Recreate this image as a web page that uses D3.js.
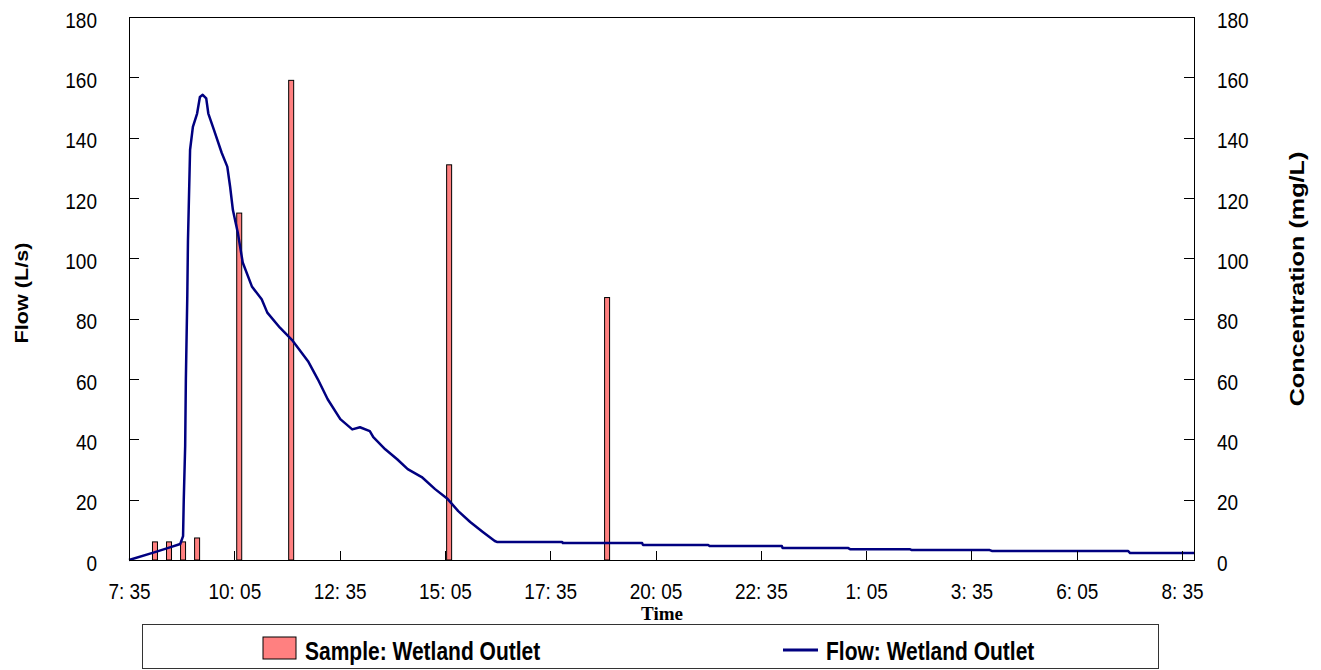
<!DOCTYPE html>
<html lang="en">
<head>
  <meta charset="UTF-8">
  <title>Wetland Outlet: Flow and Sample Concentration</title>
  <script src="https://d3js.org/d3.v7.min.js"></script>
  <style>
    body { margin: 0; background: #fff; }
    svg { display: block; font-family: Arial, "Liberation Sans", sans-serif; }
    .axis path, .axis line { stroke: #000; stroke-width: 1px; shape-rendering: crispEdges; }
    .axis text { font-size: 19px; fill: #000; }
    .bar { fill: #ff8080; stroke: #000; stroke-width: 1px; }
    .flow { fill: none; stroke: #000080; stroke-width: 2.5px; stroke-linejoin: round; }
    .title { font-weight: bold; fill: #000; }
  </style>
</head>
<body>
  <svg id="chart" width="1321" height="670"></svg>

  <script>
    // times are "DD HH:MM" (day 01 = start day, day 02 = next day)
    const flowTimes = [
      "01 07:35", "01 08:12", "01 08:31", "01 08:48", "01 08:52", "01 08:53", "01 08:55",
      "01 08:56", "01 08:58", "01 08:59", "01 09:00", "01 09:02", "01 09:06", "01 09:12",
      "01 09:16", "01 09:20", "01 09:25", "01 09:28", "01 09:36", "01 09:47", "01 09:55",
      "01 09:59", "01 10:03", "01 10:10", "01 10:17", "01 10:30", "01 10:44", "01 10:52",
      "01 11:10", "01 11:27", "01 11:50", "01 12:04", "01 12:18", "01 12:36", "01 12:53",
      "01 13:04", "01 13:18", "01 13:23", "01 13:40", "01 13:57", "01 14:12", "01 14:32",
      "01 14:51", "01 15:09", "01 15:24", "01 15:41", "01 15:59", "01 16:16", "01 16:19",
      "01 17:52", "01 17:53", "01 19:46", "01 19:47", "01 21:20", "01 21:22", "01 23:05",
      "01 23:06", "02 00:39", "02 00:42", "02 02:07", "02 02:10", "02 04:01", "02 04:04",
      "02 07:18", "02 07:21", "02 08:52"
    ];
    const flowValues = [
      0, 2.6, 4.0, 5.3, 7.9, 20, 37.7,
      60, 87, 106, 116, 136, 143.6, 148,
      153.5, 154.2, 153, 148, 142.6, 135, 130.4,
      123.8, 116, 108.5, 98.6, 90.7, 86.4, 82,
      77, 73, 65.9, 59.9, 53.3, 46.7, 43.3,
      44, 42.7, 40.7, 36.7, 33.4, 30.1, 27.5,
      23.5, 20.2, 16.2, 12.6, 9.3, 6.3, 6.0,
      6.0, 5.6, 5.6, 5.0, 5.0, 4.6, 4.6,
      4.0, 4.0, 3.6, 3.6, 3.3, 3.3, 3.0,
      3.0, 2.3, 2.3
    ];

    const sampleTimes = ["01 08:12", "01 08:32", "01 08:52", "01 09:12", "01 10:12", "01 11:26", "01 15:11", "01 18:56"];
    const sampleValues = [6, 6, 6, 7.3, 115, 159, 131, 87];

    const xTickTimes = ["01 07:35", "01 10:05", "01 12:35", "01 15:05", "01 17:35", "01 20:05",
                        "01 22:35", "02 01:05", "02 03:35", "02 06:05", "02 08:35"];
    const xTickLabels = ["7: 35", "10: 05", "12: 35", "15: 05", "17: 35", "20: 05",
                         "22: 35", "1: 05", "3: 35", "6: 05", "8: 35"];
    const yTicks = [0, 20, 40, 60, 80, 100, 120, 140, 160, 180];

    const parse = d3.timeParse("%d %H:%M");
    const plotL = 129, plotR = 1194, plotT = 17, plotB = 560;
    const svg = d3.select("#chart");

    const x = d3.scaleTime()
      .domain([parse("01 07:35"), parse("02 08:52")])
      .range([plotL, plotR]);
    const yFlow = d3.scaleLinear().domain([0, 180]).range([plotB, plotT]);
    const yConc = d3.scaleLinear().domain([0, 180]).range([plotB, plotT]);

    // plot frame
    svg.append("rect")
      .attr("x", plotL).attr("y", plotT)
      .attr("width", plotR - plotL).attr("height", plotB - plotT)
      .attr("fill", "none").attr("stroke", "#000")
      .attr("shape-rendering", "crispEdges");

    // concentration bars
    const barW = 5;
    svg.selectAll("rect.bar")
      .data(sampleTimes.map((t, i) => ({ t: parse(t), v: sampleValues[i] })))
      .enter().append("rect")
      .attr("class", "bar")
      .attr("x", d => x(d.t) - barW / 2)
      .attr("y", d => yConc(d.v))
      .attr("width", barW)
      .attr("height", d => yConc(0) - yConc(d.v));

    // flow line
    const flow = flowTimes.map((t, i) => ({ t: parse(t), v: flowValues[i] }));
    svg.append("path")
      .datum(flow)
      .attr("class", "flow")
      .attr("d", d3.line().x(d => x(d.t)).y(d => yFlow(d.v)));

    // axes
    const gL = svg.append("g").attr("class", "axis")
      .attr("transform", `translate(${plotL},0)`)
      .call(d3.axisLeft(yFlow).tickValues(yTicks).tickSize(-10).tickSizeOuter(0).tickPadding(32));
    gL.selectAll("text").attr("dy", "0.45em").attr("transform", "scale(1,1.2)");

    const gR = svg.append("g").attr("class", "axis")
      .attr("transform", `translate(${plotR},0)`)
      .call(d3.axisRight(yConc).tickValues(yTicks).tickSize(-10).tickSizeOuter(0).tickPadding(23));
    gR.selectAll("text").attr("dy", "0.45em").attr("transform", "scale(1,1.2)");

    const gB = svg.append("g").attr("class", "axis")
      .attr("transform", `translate(0,${plotB})`)
      .call(d3.axisBottom(x).tickValues(xTickTimes.map(parse))
        .tickFormat((d, i) => xTickLabels[i]).tickSize(-9).tickSizeOuter(0).tickPadding(19));
    gB.selectAll("text").attr("transform", "scale(1,1.2)");

    // axis titles
    svg.append("text").attr("class", "title")
      .attr("transform", "translate(28,293) rotate(-90) scale(1.2,1)")
      .attr("text-anchor", "middle").attr("font-size", 18)
      .text("Flow (L/s)");

    svg.append("text").attr("class", "title")
      .attr("transform", "translate(1304,279) rotate(-90) scale(1.2,1)")
      .attr("text-anchor", "middle").attr("font-size", 21)
      .text("Concentration (mg/L)");

    svg.append("text").attr("class", "title")
      .attr("x", 662).attr("y", 620)
      .attr("text-anchor", "middle")
      .attr("font-family", "'Times New Roman', 'Liberation Serif', serif")
      .attr("font-size", 19)
      .text("Time");

    // legend
    const lg = svg.append("g");
    lg.append("rect")
      .attr("x", 142).attr("y", 624).attr("width", 1016).attr("height", 44)
      .attr("fill", "#fff").attr("stroke", "#333").attr("shape-rendering", "crispEdges");
    lg.append("rect")
      .attr("x", 263).attr("y", 637).attr("width", 33).attr("height", 22)
      .attr("fill", "#ff8080").attr("stroke", "#000");
    lg.append("text").attr("class", "title")
      .attr("transform", "translate(305,660) scale(1,1.2)")
      .attr("font-size", 21)
      .text("Sample: Wetland Outlet");
    lg.append("line")
      .attr("x1", 783).attr("x2", 818).attr("y1", 650).attr("y2", 650)
      .attr("stroke", "#000080").attr("stroke-width", 3);
    lg.append("text").attr("class", "title")
      .attr("transform", "translate(826,660) scale(1,1.2)")
      .attr("font-size", 21)
      .text("Flow: Wetland Outlet");
  </script>
</body>
</html>
